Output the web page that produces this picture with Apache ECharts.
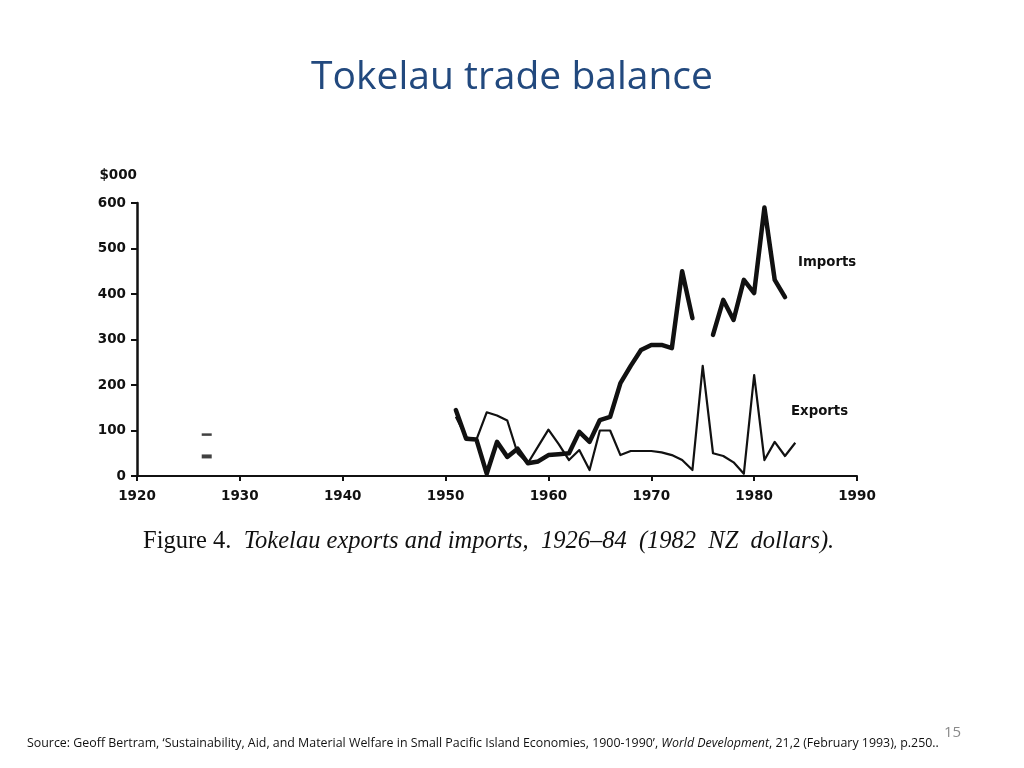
<!DOCTYPE html>
<html>
<head>
<meta charset="utf-8">
<script src="https://cdn.jsdelivr.net/npm/echarts@6/dist/echarts.min.js"></script>
<style>
html,body{margin:0;padding:0;background:#fff;}
#chart{width:1024px;height:768px;}
</style>
</head>
<body>
<div id="chart"></div>
<script>
// ---- data (values in $000, 1982 NZ dollars) ----
const years = [1951,1952,1953,1954,1955,1956,1957,1958,1959,1960,1961,1962,1963,1964,1965,1966,1967,1968,1969,1970,1971,1972,1973,1974,1975,1976,1977,1978,1979,1980,1981,1982,1983,1984];
const importsVals = [145,82,80,5,75,42,60,28,32,46,48,50,97,75,123,130,204,242,277,288,288,281,450,347,null,310,387,343,431,402,590,431,393,null];
const exportsVals = [130,85,80,140,133,122,50,28,65,102,70,35,57,13,100,100,46,55,55,55,52,46,35,13,242,50,44,30,5,222,35,75,44,73];
const earlyYear = [1926];
const earlyImports = [43];
const earlyExports = [91];
const yTicks = [0,100,200,300,400,500,600];
const xTicks = [1920,1930,1940,1950,1960,1970,1980,1990];

const pairs = (xs, ys) => xs.map((x, i) => [x, ys[i]]);

const chart = echarts.init(document.getElementById('chart'));
const axisFont = {fontFamily: 'DejaVu Sans', fontWeight: 'bold', fontSize: 13.5, color: '#111'};

chart.setOption({
  backgroundColor: '#fff',
  animation: false,
  title: {
    text: 'Tokelau trade balance',
    left: 'center',
    top: 53,
    textStyle: {fontFamily: 'Open Sans', fontWeight: 'normal', fontSize: 39, color: '#22497E'}
  },
  grid: {left: 137, right: 167, top: 203, bottom: 292, containLabel: false},
  xAxis: {
    type: 'value', min: 1920, max: 1990, interval: 10,
    axisLine: {show: true, lineStyle: {color: '#111', width: 2}},
    axisTick: {show: true, length: 5, lineStyle: {color: '#111', width: 2}},
    splitLine: {show: false},
    axisLabel: Object.assign({margin: 13, formatter: v => xTicks.includes(v) ? String(v) : ''}, axisFont)
  },
  yAxis: {
    type: 'value', min: 0, max: 600, interval: 100,
    name: '$000', nameLocation: 'end', nameGap: 21,
    nameTextStyle: Object.assign({align: 'right', padding: [0, 0, 0, 0]}, axisFont),
    axisLine: {show: true, lineStyle: {color: '#111', width: 2.5}},
    axisTick: {show: true, length: 6, lineStyle: {color: '#111', width: 2}},
    splitLine: {show: false},
    axisLabel: Object.assign({margin: 11, formatter: v => yTicks.includes(v) ? String(v) : ''}, axisFont)
  },
  series: [
    {
      name: 'Imports', type: 'line', data: pairs(years, importsVals),
      showSymbol: false, connectNulls: false,
      lineStyle: {color: '#111', width: 4.5, join: 'round', cap: 'round'}
    },
    {
      name: 'Exports', type: 'line', data: pairs(years, exportsVals),
      showSymbol: false, connectNulls: false,
      lineStyle: {color: '#111', width: 2.2, join: 'round'}
    },
    {
      name: 'Imports 1926', type: 'scatter', data: pairs(earlyYear, earlyImports),
      symbol: 'rect', symbolSize: [10, 4], symbolOffset: [8, 0], itemStyle: {color: '#111'}
    },
    {
      name: 'Exports 1926', type: 'scatter', data: pairs(earlyYear, earlyExports),
      symbol: 'rect', symbolSize: [10, 2.5], symbolOffset: [8, 0], itemStyle: {color: '#111'}
    }
  ],
  graphic: [
    {type: 'text', left: 798, top: 256, style: {text: 'Imports', font: '600 13.3px "DejaVu Sans"', fill: '#111'}},
    {type: 'text', left: 791, top: 405, style: {text: 'Exports', font: '600 13.3px "DejaVu Sans"', fill: '#111'}},
    {type: 'text', left: 143, top: 529, style: {
      text: '{r|Figure 4.  }{i|Tokelau exports and imports,  1926–84  (1982  NZ  dollars).}',
      rich: {
        r: {fontFamily: 'Liberation Serif', fontSize: 24.5, fill: '#111'},
        i: {fontFamily: 'Liberation Serif', fontStyle: 'italic', fontSize: 24.5, fill: '#111'}
      }
    }},
    {type: 'text', left: 944, top: 725, style: {text: '15', font: '15px "Open Sans"', fill: '#8a8a8a'}},
    {type: 'text', left: 27, top: 737, style: {
      text: '{n|Source: Geoff Bertram, ‘Sustainability, Aid, and Material Welfare in Small Pacific Island Economies, 1900-1990’, }{i|World Development}{n|, 21,2 (February 1993), p.250..}',
      rich: {
        n: {fontFamily: 'Open Sans', fontSize: 12.4, fill: '#111'},
        i: {fontFamily: 'Open Sans', fontStyle: 'italic', fontSize: 12.4, fill: '#111'}
      }
    }}
  ]
});
</script>
</body>
</html>
